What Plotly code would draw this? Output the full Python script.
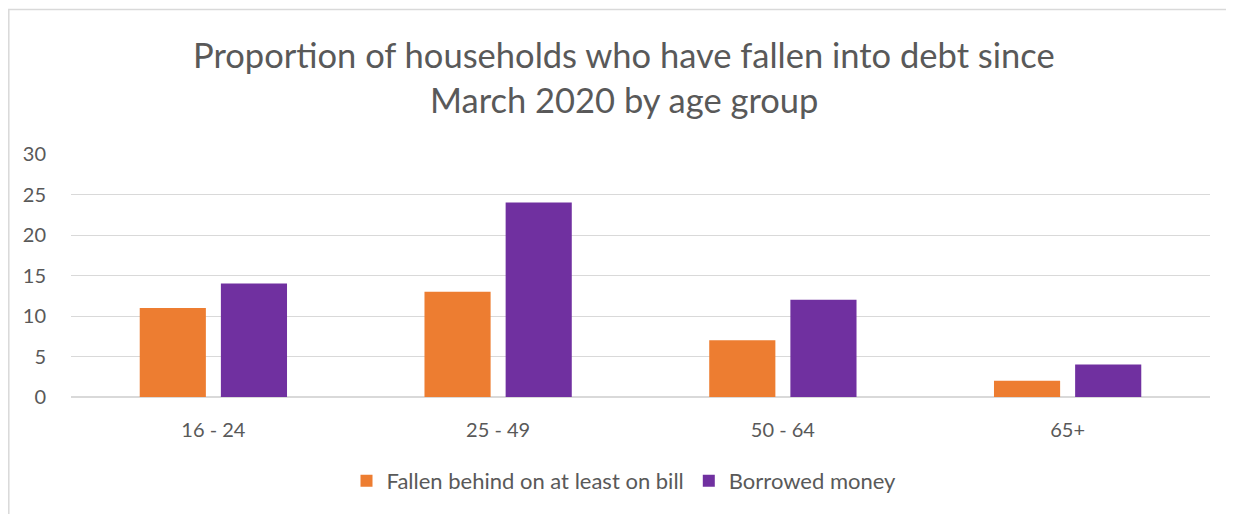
import plotly.graph_objects as go

categories = ["16 - 24", "25 - 49", "50 - 64", "65+"]
fallen_behind = [11, 13, 7, 2]
borrowed = [14, 24, 12, 4]
series_names = ["Fallen behind on at least on bill", "Borrowed money"]
y_ticks = [0, 5, 10, 15, 20, 25, 30]
title_lines = ["Proportion of households who have fallen into debt since",
               "March 2020 by age group"]

FONT = "Lato, Open Sans, sans-serif"
TXT = "#595959"
OFF = 8  # page body margin offset
W, H = 1234, 514
L, R, T, B = 71 - OFF, 32, 154 - OFF, 125
pw, ph = W - L - R, H - T - B


def px_x(page_x):
    return (page_x - OFF - L) / pw


def px_y(page_y):
    return 1 - (page_y - OFF - T) / ph


fig = go.Figure()
fig.add_trace(go.Bar(x=categories, y=fallen_behind, name=series_names[0],
                     marker=dict(color="#ED7D31", line=dict(width=0))))
fig.add_trace(go.Bar(x=categories, y=borrowed, name=series_names[1],
                     marker=dict(color="#7030A0", line=dict(width=0))))

# outer chart border (top & left visible, cropped on right/bottom)
fig.add_shape(type="rect", xref="paper", yref="paper",
              x0=(0.8 - L) / pw, x1=(W + 20 - L) / pw,
              y0=-(B + 20) / ph, y1=px_y(9.5),
              line=dict(color="#D9D9D9", width=1.5), layer="below")

for txt, yy in zip(title_lines, [55, 100]):
    fig.add_annotation(text=txt, xref="paper", yref="paper", x=px_x(624), y=px_y(yy),
                       xanchor="center", yanchor="middle", showarrow=False,
                       font=dict(family=FONT, size=34.5, color=TXT))

fig.update_layout(
    width=W, height=H,
    margin=dict(l=L, r=R, t=T, b=B),
    paper_bgcolor="white", plot_bgcolor="white",
    font=dict(family=FONT, color=TXT, size=20),
    barmode="group", bargap=0.43, bargroupgap=0.185,
    showlegend=True,
    legend=dict(orientation="h", x=px_x(624), xanchor="center",
                y=px_y(481), yanchor="middle",
                font=dict(family=FONT, size=22, color=TXT),
                itemwidth=30, traceorder="normal", itemclick=False),
    xaxis=dict(showline=False, ticks="", tickfont=dict(size=20, color=TXT),
               ticklabelstandoff=19),
    yaxis=dict(range=[0, 30], tickvals=y_ticks, showgrid=True, gridcolor="#D9D9D9",
               gridwidth=1, zeroline=True, zerolinecolor="#D9D9D9", zerolinewidth=1.5,
               showline=False, ticks="", tickfont=dict(size=20, color=TXT),
               ticklabelstandoff=24),
)

fig.write_html("out.html")
